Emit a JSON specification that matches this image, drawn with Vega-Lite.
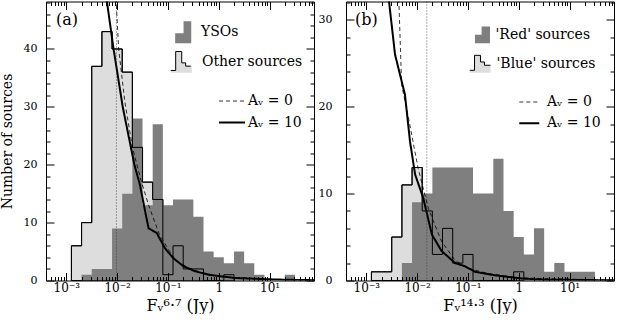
{
  "$schema": "https://vega.github.io/schema/vega-lite/v6.json",
  "padding": {"left": 0, "top": 0.5, "right": 0, "bottom": 0},
  "background": "white",
  "spacing": 3,
  "config": {
    "font": "DejaVu Serif",
    "view": {"stroke": null},
    "axis": {"grid": false, "domainColor": "#000", "tickColor": "#000", "labelColor": "#000", "titleColor": "#000", "labelFont": "DejaVu Serif", "titleFont": "DejaVu Serif", "titleFontWeight": "normal", "domainWidth": 1, "tickWidth": 1},
    "legend": {"labelFont": "DejaVu Serif", "labelColor": "#000", "labelFontSize": 14, "labelLimit": 300},
    "title": {"font": "DejaVu Serif", "fontWeight": "normal", "color": "#000"}
  },
  "resolve": {"scale": {"fill": "independent", "stroke": "independent", "strokeDash": "independent", "strokeWidth": "independent", "x": "independent", "y": "independent"}, "legend": {"fill": "independent", "stroke": "independent", "strokeDash": "independent", "strokeWidth": "independent"}},
  "datasets": {
    "a_oth": [
      {"x": 0.001259, "n": 0, "src": "Other sources"},
      {"x": 0.001259, "n": 6, "src": "Other sources"},
      {"x": 0.001995, "n": 10, "src": "Other sources"},
      {"x": 0.003162, "n": 37, "src": "Other sources"},
      {"x": 0.005012, "n": 43, "src": "Other sources"},
      {"x": 0.007943, "n": 40, "src": "Other sources"},
      {"x": 0.012589, "n": 36, "src": "Other sources"},
      {"x": 0.019953, "n": 23, "src": "Other sources"},
      {"x": 0.031623, "n": 17, "src": "Other sources"},
      {"x": 0.050119, "n": 14, "src": "Other sources"},
      {"x": 0.079433, "n": 1, "src": "Other sources"},
      {"x": 0.125893, "n": 6, "src": "Other sources"},
      {"x": 0.199526, "n": 2, "src": "Other sources"},
      {"x": 0.316228, "n": 2, "src": "Other sources"},
      {"x": 0.501187, "n": 0, "src": "Other sources"},
      {"x": 1.258925, "n": 1, "src": "Other sources"},
      {"x": 1.995262, "n": 0, "src": "Other sources"}
    ],
    "a_yso": [
      {"x": 0.001995, "n": 0, "src": "YSOs"},
      {"x": 0.001995, "n": 1, "src": "YSOs"},
      {"x": 0.003162, "n": 2, "src": "YSOs"},
      {"x": 0.005012, "n": 2, "src": "YSOs"},
      {"x": 0.007943, "n": 9, "src": "YSOs"},
      {"x": 0.012589, "n": 15, "src": "YSOs"},
      {"x": 0.019953, "n": 28, "src": "YSOs"},
      {"x": 0.031623, "n": 13, "src": "YSOs"},
      {"x": 0.050119, "n": 27, "src": "YSOs"},
      {"x": 0.079433, "n": 13, "src": "YSOs"},
      {"x": 0.125893, "n": 14, "src": "YSOs"},
      {"x": 0.199526, "n": 14, "src": "YSOs"},
      {"x": 0.316228, "n": 11, "src": "YSOs"},
      {"x": 0.501187, "n": 5, "src": "YSOs"},
      {"x": 0.794328, "n": 4, "src": "YSOs"},
      {"x": 1.258925, "n": 3, "src": "YSOs"},
      {"x": 1.995262, "n": 5, "src": "YSOs"},
      {"x": 3.162278, "n": 3, "src": "YSOs"},
      {"x": 5.011872, "n": 1, "src": "YSOs"},
      {"x": 7.943282, "n": 0, "src": "YSOs"},
      {"x": 19.952623, "n": 1, "src": "YSOs"},
      {"x": 31.622777, "n": 0, "src": "YSOs"}
    ],
    "a_cur": [
      {"model": "Aᵥ = 10", "x": 0.005888, "n": 50},
      {"model": "Aᵥ = 10", "x": 0.008511, "n": 40},
      {"model": "Aᵥ = 10", "x": 0.012882, "n": 30},
      {"model": "Aᵥ = 10", "x": 0.021878, "n": 20},
      {"model": "Aᵥ = 10", "x": 0.028184, "n": 16.5},
      {"model": "Aᵥ = 10", "x": 0.035481, "n": 12},
      {"model": "Aᵥ = 10", "x": 0.041687, "n": 9},
      {"model": "Aᵥ = 10", "x": 0.060256, "n": 8.2},
      {"model": "Aᵥ = 10", "x": 0.087096, "n": 5.6},
      {"model": "Aᵥ = 10", "x": 0.125893, "n": 3.9},
      {"model": "Aᵥ = 10", "x": 0.199526, "n": 2.5},
      {"model": "Aᵥ = 10", "x": 0.338844, "n": 1.6},
      {"model": "Aᵥ = 10", "x": 0.630957, "n": 1.0},
      {"model": "Aᵥ = 10", "x": 1.995262, "n": 0.45},
      {"model": "Aᵥ = 10", "x": 12.589, "n": 0.17},
      {"model": "Aᵥ = 10", "x": 79.43, "n": 0.05},
      {"model": "Aᵥ = 0", "x": 0.009333, "n": 50},
      {"model": "Aᵥ = 0", "x": 0.010715, "n": 40},
      {"model": "Aᵥ = 0", "x": 0.014125, "n": 31},
      {"model": "Aᵥ = 0", "x": 0.019953, "n": 23},
      {"model": "Aᵥ = 0", "x": 0.0302, "n": 17},
      {"model": "Aᵥ = 0", "x": 0.041687, "n": 13},
      {"model": "Aᵥ = 0", "x": 0.067608, "n": 8},
      {"model": "Aᵥ = 0", "x": 0.1, "n": 5.5},
      {"model": "Aᵥ = 0", "x": 0.141254, "n": 3.5},
      {"model": "Aᵥ = 0", "x": 0.251189, "n": 2.2},
      {"model": "Aᵥ = 0", "x": 0.446684, "n": 1.4},
      {"model": "Aᵥ = 0", "x": 0.794328, "n": 0.9},
      {"model": "Aᵥ = 0", "x": 1.995, "n": 0.5},
      {"model": "Aᵥ = 0", "x": 10, "n": 0.2},
      {"model": "Aᵥ = 0", "x": 79.43, "n": 0.05}
    ],
    "a_vl": [{"x": 0.0097}],
    "b_blue": [
      {"x": 0.001259, "n": 0, "src": "'Blue' sources"},
      {"x": 0.001259, "n": 1, "src": "'Blue' sources"},
      {"x": 0.001995, "n": 1, "src": "'Blue' sources"},
      {"x": 0.003162, "n": 5, "src": "'Blue' sources"},
      {"x": 0.005012, "n": 11, "src": "'Blue' sources"},
      {"x": 0.007943, "n": 13, "src": "'Blue' sources"},
      {"x": 0.012589, "n": 8, "src": "'Blue' sources"},
      {"x": 0.019953, "n": 3, "src": "'Blue' sources"},
      {"x": 0.031623, "n": 6, "src": "'Blue' sources"},
      {"x": 0.050119, "n": 2, "src": "'Blue' sources"},
      {"x": 0.079433, "n": 3, "src": "'Blue' sources"},
      {"x": 0.125893, "n": 0, "src": "'Blue' sources"},
      {"x": 0.794328, "n": 1, "src": "'Blue' sources"},
      {"x": 1.258925, "n": 0, "src": "'Blue' sources"}
    ],
    "b_red": [
      {"x": 0.005012, "n": 0, "src": "'Red' sources"},
      {"x": 0.005012, "n": 2, "src": "'Red' sources"},
      {"x": 0.007943, "n": 9, "src": "'Red' sources"},
      {"x": 0.012589, "n": 10, "src": "'Red' sources"},
      {"x": 0.019953, "n": 13, "src": "'Red' sources"},
      {"x": 0.031623, "n": 13, "src": "'Red' sources"},
      {"x": 0.050119, "n": 13, "src": "'Red' sources"},
      {"x": 0.079433, "n": 13, "src": "'Red' sources"},
      {"x": 0.125893, "n": 10, "src": "'Red' sources"},
      {"x": 0.199526, "n": 10, "src": "'Red' sources"},
      {"x": 0.316228, "n": 14, "src": "'Red' sources"},
      {"x": 0.501187, "n": 8, "src": "'Red' sources"},
      {"x": 0.794328, "n": 5, "src": "'Red' sources"},
      {"x": 1.258925, "n": 3, "src": "'Red' sources"},
      {"x": 1.995262, "n": 6, "src": "'Red' sources"},
      {"x": 3.162278, "n": 1, "src": "'Red' sources"},
      {"x": 5.011872, "n": 2, "src": "'Red' sources"},
      {"x": 7.943282, "n": 1, "src": "'Red' sources"},
      {"x": 31.622777, "n": 0, "src": "'Red' sources"}
    ],
    "b_cur": [
      {"model": "Aᵥ = 10", "x": 0.00257, "n": 34},
      {"model": "Aᵥ = 10", "x": 0.003673, "n": 26},
      {"model": "Aᵥ = 10", "x": 0.005754, "n": 21.4},
      {"model": "Aᵥ = 10", "x": 0.007244, "n": 16},
      {"model": "Aᵥ = 10", "x": 0.00912, "n": 12.2},
      {"model": "Aᵥ = 10", "x": 0.013183, "n": 9.5},
      {"model": "Aᵥ = 10", "x": 0.019498, "n": 5.3},
      {"model": "Aᵥ = 10", "x": 0.0302, "n": 3.4},
      {"model": "Aᵥ = 10", "x": 0.056234, "n": 2.0},
      {"model": "Aᵥ = 10", "x": 0.087096, "n": 1.64},
      {"model": "Aᵥ = 10", "x": 0.138038, "n": 1.0},
      {"model": "Aᵥ = 10", "x": 0.338844, "n": 0.6},
      {"model": "Aᵥ = 10", "x": 1.148154, "n": 0.23},
      {"model": "Aᵥ = 10", "x": 3.162, "n": 0.1},
      {"model": "Aᵥ = 10", "x": 79.43, "n": 0.02},
      {"model": "Aᵥ = 0", "x": 0.004266, "n": 34},
      {"model": "Aᵥ = 0", "x": 0.004955, "n": 22.5},
      {"model": "Aᵥ = 0", "x": 0.006761, "n": 18.7},
      {"model": "Aᵥ = 0", "x": 0.010471, "n": 12.9},
      {"model": "Aᵥ = 0", "x": 0.016596, "n": 8.3},
      {"model": "Aᵥ = 0", "x": 0.0302, "n": 4.5},
      {"model": "Aᵥ = 0", "x": 0.056234, "n": 2.3},
      {"model": "Aᵥ = 0", "x": 0.1, "n": 1.4},
      {"model": "Aᵥ = 0", "x": 0.251189, "n": 0.8},
      {"model": "Aᵥ = 0", "x": 1, "n": 0.3},
      {"model": "Aᵥ = 0", "x": 79.43, "n": 0.03}
    ],
    "b_vl": [{"x": 0.0155}]
  },
  "hconcat": [
    {
      "width": 268,
      "height": 279,
      "title": {"text": "(a)", "anchor": "start", "frame": "group", "offset": -40, "dx": 10, "fontSize": 16, "baseline": "alphabetic"},
      "resolve": {"axis": {"x": "independent", "y": "independent"}},
      "layer": [
        {
          "data": {"name": "a_oth"},
          "mark": {"type": "area", "interpolate": "step-after", "fill": "#dddddd", "opacity": 1, "strokeWidth": 1},
          "encoding": {
            "x": {"field": "x", "type": "quantitative", "scale": {"type": "log", "domain": [0.000398, 75], "nice": false},
              "axis": {"orient": "bottom", "values": [0.001, 0.01, 0.1, 1, 10], "labelExpr": "datum.value == 0.001 ? '10⁻³' : datum.value == 0.01 ? '10⁻²' : datum.value == 0.1 ? '10⁻¹' : datum.value == 1 ? '1' : '10¹'", "tickSize": -8, "labelPadding": 10, "labelFontSize": 12, "labelOverlap": false, "labelFlush": false, "labelBound": false, "domain": true, "zindex": 1, "title": "Fᵥ⁶·⁷ (Jy)", "titleFontSize": 16, "titlePadding": 4}},
            "y": {"field": "n", "type": "quantitative", "scale": {"domain": [0, 48.2], "nice": false},
              "axis": {"orient": "left", "values": [0, 10, 20, 30, 40], "tickSize": -8, "labelPadding": 17, "labelFontSize": 11, "labelFlush": false, "labelOverlap": false, "domain": true, "zindex": 1, "title": "Number of sources", "titleFontSize": 14, "titlePadding": 9}},
            "stroke": {"field": "src", "type": "nominal", "scale": {"domain": ["Other sources"], "range": ["#000000"]},
              "legend": {"orient": "none", "legendX": 125, "legendY": 49.2, "title": null, "symbolType": "M-1.07,0.75L-0.62,0.75L-0.62,-0.97L-0.07,-0.97L-0.07,0.06L0.29,0.06L0.29,0.36L0.75,0.36L0.84,0.36L0.84,0.97L-1.07,0.97Z", "symbolSize": 484, "symbolFillColor": "#dddddd", "symbolStrokeWidth": 1, "symbolDash": [53.6, 40], "symbolOpacity": 1, "labelOffset": 8, "labelFontSize": 14}},
            "order": {"value": null}
          }
        },
        {
          "data": {"name": "a_yso"},
          "mark": {"type": "area", "interpolate": "step-after", "opacity": 1, "stroke": "transparent", "strokeWidth": 0},
          "encoding": {
            "x": {"field": "x", "type": "quantitative", "axis": {"orient": "bottom", "values": [0.0004,0.0005,0.0006,0.0007,0.0008,0.0009,0.002,0.003,0.004,0.005,0.006,0.007,0.008,0.009,0.02,0.03,0.04,0.05,0.06,0.07,0.08,0.09,0.2,0.3,0.4,0.5,0.6,0.7,0.8,0.9,2,3,4,5,6,7,8,9,20,30,40,50,60,70], "labels": false, "tickSize": -4, "domain": false, "title": null, "zindex": 1}},
            "y": {"field": "n", "type": "quantitative", "axis": {"orient": "left", "values": [2,4,6,8,12,14,16,18,22,24,26,28,32,34,36,38,42,44,46,48], "labels": false, "tickSize": -4, "domain": false, "title": null, "zindex": 1}},
            "fill": {"field": "src", "type": "nominal", "scale": {"domain": ["YSOs"], "range": ["#7f7f7f"]},
              "legend": {"orient": "none", "legendX": 125, "legendY": 19.8, "title": null, "symbolType": "M-0.62,1L-0.62,0.08L0.14,0.08L0.14,-1L0.84,-1L0.84,1Z", "symbolSize": 484, "symbolStrokeWidth": 0, "symbolOpacity": 1, "labelOffset": 8, "labelFontSize": 14}},
            "order": {"value": null}
          }
        },
        {
          "data": {"name": "a_oth"},
          "mark": {"type": "line", "interpolate": "step-after", "stroke": "#000", "strokeWidth": 1},
          "encoding": {
            "x": {"field": "x", "type": "quantitative", "axis": {"orient": "top", "values": [0.001, 0.01, 0.1, 1, 10], "labels": false, "tickSize": -8, "domain": true, "title": null, "zindex": 1}},
            "y": {"field": "n", "type": "quantitative", "axis": {"orient": "right", "values": [0, 10, 20, 30, 40], "labels": false, "tickSize": -8, "domain": true, "title": null, "zindex": 1}},
            "order": {"value": null}
          }
        },
        {
          "data": {"name": "a_cur"},
          "mark": {"type": "line", "stroke": "#000", "clip": true},
          "encoding": {
            "x": {"field": "x", "type": "quantitative", "axis": {"orient": "top", "values": [0.0004,0.0005,0.0006,0.0007,0.0008,0.0009,0.002,0.003,0.004,0.005,0.006,0.007,0.008,0.009,0.02,0.03,0.04,0.05,0.06,0.07,0.08,0.09,0.2,0.3,0.4,0.5,0.6,0.7,0.8,0.9,2,3,4,5,6,7,8,9,20,30,40,50,60,70], "labels": false, "tickSize": -4, "domain": false, "title": null, "zindex": 1}},
            "y": {"field": "n", "type": "quantitative", "axis": {"orient": "right", "values": [2,4,6,8,12,14,16,18,22,24,26,28,32,34,36,38,42,44,46,48], "labels": false, "tickSize": -4, "domain": false, "title": null, "zindex": 1}},
            "strokeDash": {"field": "model", "type": "ordinal", "scale": {"domain": ["Aᵥ = 0", "Aᵥ = 10"], "range": [[4, 3], [1, 0]]},
              "legend": {"orient": "none", "legendX": 172, "legendY": 86, "title": null, "symbolType": "stroke", "symbolSize": 676, "symbolStrokeColor": "#000", "labelOffset": 2, "rowPadding": -1, "labelFontSize": 14}},
            "strokeWidth": {"field": "model", "type": "ordinal", "scale": {"domain": ["Aᵥ = 0", "Aᵥ = 10"], "range": [0.8, 2]},
              "legend": {"orient": "none", "legendX": 172, "legendY": 86, "title": null, "symbolType": "stroke", "symbolSize": 676, "symbolStrokeColor": "#000", "labelOffset": 2, "rowPadding": -1, "labelFontSize": 14}}
          }
        },
        {
          "data": {"name": "a_vl"},
          "mark": {"type": "rule", "stroke": "#333", "strokeWidth": 0.8, "strokeDash": [1, 2]},
          "encoding": {"x": {"field": "x", "type": "quantitative", "axis": null}}
        }
      ]
    },
    {
      "width": 268,
      "height": 279,
      "title": {"text": "(b)", "anchor": "start", "frame": "group", "offset": -40, "dx": 9, "fontSize": 16, "baseline": "alphabetic"},
      "resolve": {"axis": {"x": "independent", "y": "independent"}},
      "layer": [
        {
          "data": {"name": "b_blue"},
          "mark": {"type": "area", "interpolate": "step-after", "fill": "#dddddd", "opacity": 1, "strokeWidth": 1},
          "encoding": {
            "x": {"field": "x", "type": "quantitative", "scale": {"type": "log", "domain": [0.000398, 75], "nice": false},
              "axis": {"orient": "bottom", "values": [0.001, 0.01, 0.1, 1, 10], "labelExpr": "datum.value == 0.001 ? '10⁻³' : datum.value == 0.01 ? '10⁻²' : datum.value == 0.1 ? '10⁻¹' : datum.value == 1 ? '1' : '10¹'", "tickSize": -8, "labelPadding": 10, "labelFontSize": 12, "labelOverlap": false, "labelFlush": false, "labelBound": false, "domain": true, "zindex": 1, "title": "Fᵥ¹⁴·³ (Jy)", "titleFontSize": 16, "titlePadding": 4}},
            "y": {"field": "n", "type": "quantitative", "scale": {"domain": [0, 32.1], "nice": false},
              "axis": {"orient": "left", "values": [0, 10, 20, 30], "tickSize": -8, "labelPadding": 22, "labelFontSize": 11, "labelFlush": false, "labelOverlap": false, "domain": true, "zindex": 1, "title": null}},
            "stroke": {"field": "src", "type": "nominal", "scale": {"domain": ["'Blue' sources"], "range": ["#000000"]},
              "legend": {"orient": "none", "legendX": 126.5, "legendY": 53.5, "title": null, "symbolType": "M-1.38,0.74L-0.82,0.74L-0.82,-1.02L-0.12,-1.02L-0.12,-0.24L0.35,-0.24L0.35,0.15L1.06,0.15L1.06,1.02L-1.38,1.02Z", "symbolSize": 289, "symbolFillColor": "#dddddd", "symbolStrokeWidth": 1, "symbolDash": [45.6, 40], "symbolOpacity": 1, "labelOffset": 6, "labelFontSize": 14}},
            "order": {"value": null}
          }
        },
        {
          "data": {"name": "b_red"},
          "mark": {"type": "area", "interpolate": "step-after", "opacity": 1, "stroke": "transparent", "strokeWidth": 0},
          "encoding": {
            "x": {"field": "x", "type": "quantitative", "axis": {"orient": "bottom", "values": [0.0004,0.0005,0.0006,0.0007,0.0008,0.0009,0.002,0.003,0.004,0.005,0.006,0.007,0.008,0.009,0.02,0.03,0.04,0.05,0.06,0.07,0.08,0.09,0.2,0.3,0.4,0.5,0.6,0.7,0.8,0.9,2,3,4,5,6,7,8,9,20,30,40,50,60,70], "labels": false, "tickSize": -4, "domain": false, "title": null, "zindex": 1}},
            "y": {"field": "n", "type": "quantitative", "axis": {"orient": "left", "values": [2,4,6,8,12,14,16,18,22,24,26,28,32], "labels": false, "tickSize": -4, "domain": false, "title": null, "zindex": 1}},
            "fill": {"field": "src", "type": "nominal", "scale": {"domain": ["'Red' sources"], "range": ["#7f7f7f"]},
              "legend": {"orient": "none", "legendX": 126.5, "legendY": 24.8, "title": null, "symbolType": "M-0.71,0.98L-0.71,0L0.07,0L0.07,-0.98L1.06,-0.98L1.06,0.98Z", "symbolSize": 289, "symbolStrokeWidth": 0, "symbolOpacity": 1, "labelOffset": 6, "labelFontSize": 14}},
            "order": {"value": null}
          }
        },
        {
          "data": {"name": "b_blue"},
          "mark": {"type": "line", "interpolate": "step-after", "stroke": "#000", "strokeWidth": 1},
          "encoding": {
            "x": {"field": "x", "type": "quantitative", "axis": {"orient": "top", "values": [0.001, 0.01, 0.1, 1, 10], "labels": false, "tickSize": -8, "domain": true, "title": null, "zindex": 1}},
            "y": {"field": "n", "type": "quantitative", "axis": {"orient": "right", "values": [0, 10, 20, 30], "labels": false, "tickSize": -8, "domain": true, "title": null, "zindex": 1}},
            "order": {"value": null}
          }
        },
        {
          "data": {"name": "b_cur"},
          "mark": {"type": "line", "stroke": "#000", "clip": true},
          "encoding": {
            "x": {"field": "x", "type": "quantitative", "axis": {"orient": "top", "values": [0.0004,0.0005,0.0006,0.0007,0.0008,0.0009,0.002,0.003,0.004,0.005,0.006,0.007,0.008,0.009,0.02,0.03,0.04,0.05,0.06,0.07,0.08,0.09,0.2,0.3,0.4,0.5,0.6,0.7,0.8,0.9,2,3,4,5,6,7,8,9,20,30,40,50,60,70], "labels": false, "tickSize": -4, "domain": false, "title": null, "zindex": 1}},
            "y": {"field": "n", "type": "quantitative", "axis": {"orient": "right", "values": [2,4,6,8,12,14,16,18,22,24,26,28,32], "labels": false, "tickSize": -4, "domain": false, "title": null, "zindex": 1}},
            "strokeDash": {"field": "model", "type": "ordinal", "scale": {"domain": ["Aᵥ = 0", "Aᵥ = 10"], "range": [[4, 3], [1, 0]]},
              "legend": {"orient": "none", "legendX": 172.3, "legendY": 90, "title": null, "symbolType": "stroke", "symbolSize": 400, "symbolStrokeColor": "#000", "labelOffset": 6.7, "rowPadding": 2.7, "labelFontSize": 14}},
            "strokeWidth": {"field": "model", "type": "ordinal", "scale": {"domain": ["Aᵥ = 0", "Aᵥ = 10"], "range": [0.8, 2]},
              "legend": {"orient": "none", "legendX": 172.3, "legendY": 90, "title": null, "symbolType": "stroke", "symbolSize": 400, "symbolStrokeColor": "#000", "labelOffset": 6.7, "rowPadding": 2.7, "labelFontSize": 14}}
          }
        },
        {
          "data": {"name": "b_vl"},
          "mark": {"type": "rule", "stroke": "#333", "strokeWidth": 0.8, "strokeDash": [1, 2]},
          "encoding": {"x": {"field": "x", "type": "quantitative", "axis": null}}
        }
      ]
    }
  ]
}
